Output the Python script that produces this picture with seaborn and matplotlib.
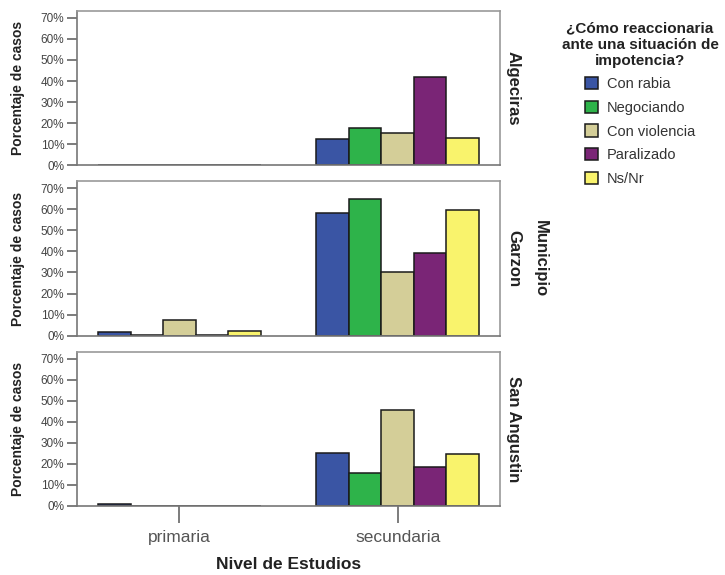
import pandas as pd
import numpy as np
import matplotlib.pyplot as plt
import seaborn as sns
from matplotlib.patches import Patch
from matplotlib.ticker import PercentFormatter

# Data (percent of cases)
municipios = ["Algeciras", "Garzon", "San Angustin"]
niveles = ["primaria", "secundaria"]
respuestas = ["Con rabia", "Negociando", "Con violencia", "Paralizado", "Ns/Nr"]
colores = ["#3A55A4", "#2EB34A", "#D4CE98", "#7A2576", "#F9F36C"]

algeciras_primaria = [0.0, 0.0, 0.0, 0.0, 0.0]
algeciras_secundaria = [12.6, 17.9, 15.2, 41.8, 13.1]
garzon_primaria = [1.6, 0.2, 7.4, 0.2, 2.2]
garzon_secundaria = [58.3, 64.9, 30.3, 39.3, 59.7]
sanangustin_primaria = [0.8, 0.0, 0.0, 0.0, 0.0]
sanangustin_secundaria = [25.4, 15.9, 45.7, 18.3, 24.6]

valores = {
    ("Algeciras", "primaria"): algeciras_primaria,
    ("Algeciras", "secundaria"): algeciras_secundaria,
    ("Garzon", "primaria"): garzon_primaria,
    ("Garzon", "secundaria"): garzon_secundaria,
    ("San Angustin", "primaria"): sanangustin_primaria,
    ("San Angustin", "secundaria"): sanangustin_secundaria,
}

rows = []
for (mun, niv), vals in valores.items():
    for resp, v in zip(respuestas, vals):
        rows.append({"Municipio": mun, "Nivel": niv, "Respuesta": resp, "Pct": v})
df = pd.DataFrame(rows)

sns.set_style("white")
plt.rcParams["font.family"] = ["Liberation Sans", "DejaVu Sans"]

fig, axes = plt.subplots(3, 1, figsize=(7.25, 5.75), dpi=100, sharex=True)
fig.subplots_adjust(left=0.106, right=0.69, top=0.981, bottom=0.12, hspace=0.104)

for ax, mun in zip(axes, municipios):
    sub = df[df["Municipio"] == mun]
    sns.barplot(data=sub, x="Nivel", y="Pct", hue="Respuesta", order=niveles,
                hue_order=respuestas, palette=colores, saturation=1, width=0.745,
                edgecolor="#1a1a1a", linewidth=1.1, errorbar=None,
                legend=False, ax=ax)
    ax.set_xlim(-0.47, 1.47)
    ax.set_ylim(0, 73.3)
    ax.set_yticks(np.arange(0, 71, 10))
    ax.yaxis.set_major_formatter(PercentFormatter(decimals=0))
    ax.tick_params(axis="y", left=True, length=7, width=1.2, color="#666666",
                   labelsize=8.5, labelcolor="#444444", pad=2)
    ax.set_ylabel("Porcentaje de casos", fontsize=10, fontweight="bold", color="#222222")
    ax.yaxis.set_label_coords(-0.123, 0.5)
    ax.set_xlabel("")
    for s in ax.spines.values():
        s.set_color("#999999")
        s.set_linewidth(1.2)
    ax.spines["left"].set_color("#777777")
    ax.spines["bottom"].set_color("#777777")

axes[0].text(1.031, 0.5, "Algeciras", transform=axes[0].transAxes, rotation=-90,
             ha="center", va="center", fontsize=12, fontweight="bold", color="#222222")
axes[1].text(1.031, 0.5, "Garzon", transform=axes[1].transAxes, rotation=-90,
             ha="center", va="center", fontsize=12, fontweight="bold", color="#222222")
axes[1].text(1.095, 0.5, "Municipio", transform=axes[1].transAxes, rotation=-90,
             ha="center", va="center", fontsize=12, fontweight="bold", color="#222222")
axes[2].text(1.031, 0.5, "San Angustin", transform=axes[2].transAxes, rotation=-90,
             ha="center", va="center", fontsize=12, fontweight="bold", color="#222222")

for ax in axes[:2]:
    ax.tick_params(axis="x", bottom=False, labelbottom=False)
axes[2].tick_params(axis="x", bottom=True, length=12, width=1.2, color="#666666",
                    labelsize=12.5, labelcolor="#555555", pad=5)
axes[2].set_xlabel("Nivel de Estudios", fontsize=12.5, fontweight="bold",
                   color="#222222", labelpad=9)

# Legend
fig.text(640 / 725, 1 - 21 / 575, "¿Cómo reaccionaria\nante una situación de\nimpotencia?",
         ha="center", va="top", fontsize=11, fontweight="bold", color="#222222",
         linespacing=1.25)
handles = [Patch(facecolor=c, edgecolor="#1a1a1a", linewidth=1.1, label=r)
           for c, r in zip(colores, respuestas)]
fig.legend(handles=handles, loc="upper left", bbox_to_anchor=(585 / 725, 1 - 77 / 575),
           frameon=False, fontsize=10.5, handlelength=0.9, handleheight=0.9,
           handletextpad=0.6, labelspacing=0.66, borderpad=0, borderaxespad=0,
           labelcolor="#333333")

fig.savefig("out.png", dpi=100)
